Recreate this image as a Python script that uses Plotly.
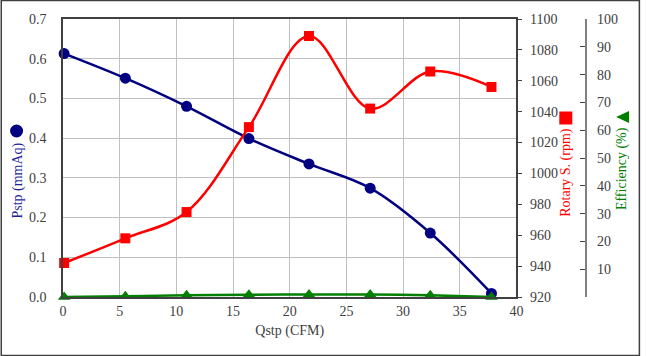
import plotly.graph_objects as go

qstp = [0.1, 5.5, 10.9, 16.4, 21.7, 27.1, 32.4, 37.8]
pstp = [0.613, 0.551, 0.480, 0.399, 0.335, 0.274, 0.161, 0.009]
rpm = [942, 958, 975, 1030, 1089, 1042, 1066, 1056]
eff = [0.0, 0.3, 0.6, 0.8, 0.9, 0.9, 0.6, 0.0]

x_ticks = [0, 5, 10, 15, 20, 25, 30, 35, 40]
p_ticks = [0, 0.1, 0.2, 0.3, 0.4, 0.5, 0.6, 0.7]
rpm_ticks = [920, 940, 960, 980, 1000, 1020, 1040, 1060, 1080, 1100]
eff_ticks = [10, 20, 30, 40, 50, 60, 70, 80, 90, 100]

W, H = 647, 356
L, R, T, B = 63, 10, 19, 59
PW = W - L - R
PH = H - T - B
def px(x):
    return (x - L) / PW
def py(y):
    return (H - B - y) / PH

FONT = "Liberation Serif, Times New Roman, serif"
TXT = "#404040"
TF = dict(family=FONT, size=14, color=TXT)

fig = go.Figure()
fig.add_trace(go.Scatter(x=qstp, y=pstp, mode="lines+markers", line=dict(color="#000080", width=2.5, shape="spline"),
                         marker=dict(symbol="circle", size=11, color="#000080"), yaxis="y", cliponaxis=False))
fig.add_trace(go.Scatter(x=qstp, y=rpm, mode="lines+markers", line=dict(color="#FF0000", width=2.5, shape="spline"),
                         marker=dict(symbol="square", size=10, color="#FF0000"), yaxis="y2", cliponaxis=False))
fig.add_trace(go.Scatter(x=qstp, y=eff, mode="lines+markers", line=dict(color="#008000", width=2.5, shape="spline"),
                         marker=dict(symbol="triangle-up", size=11, color="#008000"), yaxis="y3", cliponaxis=False))

grid = "#c0c0c0"
fig.update_layout(
    width=W, height=H, margin=dict(l=L, r=R, t=T, b=B),
    paper_bgcolor="white", plot_bgcolor="white", showlegend=False,
    font=dict(family=FONT, size=14, color=TXT),
    xaxis=dict(domain=[0, px(522)], range=[0, 40], tickvals=x_ticks, showgrid=True, gridcolor=grid, gridwidth=1,
               showline=True, linecolor="#404040", linewidth=1.5, mirror=True, ticks="", zeroline=False,
               tickfont=TF, ticklabelstandoff=0,
               title=dict(text="Qstp (CFM)", font=dict(family=FONT, size=14, color=TXT), standoff=8)),
    yaxis=dict(range=[0, 0.7], tickvals=p_ticks, tickformat=".1f", showgrid=True, gridcolor=grid, gridwidth=1,
               showline=True, linecolor="#404040", linewidth=1.5, ticks="", zeroline=False,
               tickfont=TF, ticklabelstandoff=12),
    yaxis2=dict(range=[920, 1100], tickvals=rpm_ticks, overlaying="y", side="right", anchor="x", showgrid=False,
                showline=True, linecolor="#404040", linewidth=1.5, ticks="outside", ticklen=4, tickcolor="#404040",
                zeroline=False, tickfont=TF, ticklabelstandoff=5),
    yaxis3=dict(range=[0, 100], tickvals=eff_ticks, overlaying="y", side="right", anchor="free", position=px(592),
                showgrid=False, showline=True, linecolor="#808080", linewidth=1.5, ticks="inside", ticklen=5,
                tickcolor="#404040", zeroline=False, tickfont=TF, ticklabelstandoff=8),
)

ann = [
    dict(text="Pstp (mmAq)", x=px(17), y=py(181), color="#1f1f99"),
    dict(text="Rotary S. (rpm)", x=px(572), y=py(172), color="#FF0000"),
    dict(text="Efficiency (%)", x=px(629), y=py(169), color="#008000"),
]
for a in ann:
    fig.add_annotation(text=a["text"], x=a["x"], y=a["y"], xref="paper", yref="paper", showarrow=False,
                       textangle=-90, xanchor="center", yanchor="middle",
                       font=dict(family=FONT, size=14, color=a["color"]))

fig.add_shape(type="circle", xref="paper", yref="paper", xsizemode="pixel", ysizemode="pixel",
              xanchor=px(16), yanchor=py(131), x0=-6.5, x1=6.5, y0=-6.5, y1=6.5,
              fillcolor="#000080", line=dict(width=0))
fig.add_shape(type="rect", xref="paper", yref="paper", xsizemode="pixel", ysizemode="pixel",
              xanchor=px(572), yanchor=py(118), x0=-6.5, x1=6.5, y0=-6.5, y1=6.5,
              fillcolor="#FF0000", line=dict(width=0))
fig.add_shape(type="path", xref="paper", yref="paper", xsizemode="pixel", ysizemode="pixel",
              xanchor=px(630), yanchor=py(117), path="M -7,0 L 6,6 L 6,-6 Z",
              fillcolor="#008000", line=dict(width=0))
fig.add_shape(type="rect", xref="paper", yref="paper", x0=px(0.5), x1=px(646.5), y0=py(355.5), y1=py(0.5),
              line=dict(color="#404040", width=1.5), layer="below")

fig.write_html("out.html", config={"displayModeBar": False},
               post_script="document.body.style.margin='0';document.body.style.overflow='hidden';")
